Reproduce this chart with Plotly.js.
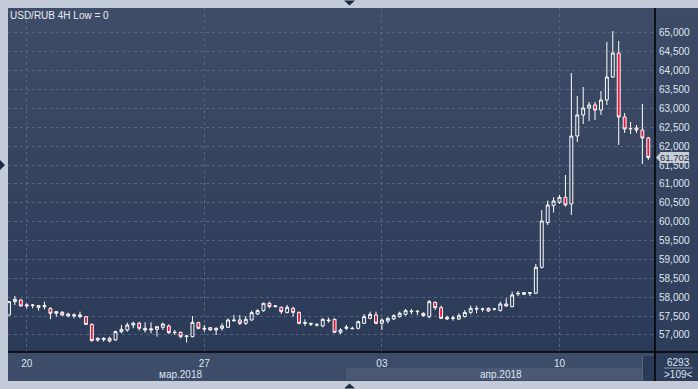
<!DOCTYPE html>
<html>
<head>
<meta charset="utf-8">
<script src="https://cdn.plot.ly/plotly-3.0.1.min.js"></script>
<style>
  html, body { margin:0; padding:0; background:#c3ccd8; }
  #wrap { position:relative; width:698px; height:389px; background:#c3ccd8; overflow:hidden; }
  .bg { position:absolute; }
  #plotbg { left:8px; top:8px; width:647px; height:344px; background:linear-gradient(#3f4c67, #2b3a57); }
  #rbg { left:655px; top:8px; width:43px; height:373px; background:linear-gradient(#3e4b66, #2d3c59); }
  #xbg { left:8px; top:352px; width:647px; height:29px; background:#3d4c68; }
  #mstrip { left:346px; top:368px; width:296px; height:12px; background:#4a5874; }
  #sbar { left:642px; top:356px; width:13px; height:25px; background:#2b3a56; border-left:1px solid #56647d; box-sizing:border-box; }
  #chart { position:absolute; left:0; top:0; width:698px; height:389px; }
</style>
</head>
<body>
<div id="wrap">
  <div class="bg" id="plotbg"></div>
  <div class="bg" id="rbg"></div>
  <div class="bg" id="xbg"></div>
  <div class="bg" id="mstrip"></div>
  <div class="bg" id="sbar"></div>
  <div id="chart"></div>
</div>
<script>
// ---- data (USD/RUB, 4H candles) ----
const barIndex = [];
for (let i = 0; i < 109; i++) barIndex.push(i);

const openPrices = [57530,57883,57927,57768,57780,57733,57750,57706,57574,57600,
  57556,57503,57486,57486,57282,56867,56876,56912,56867,57088,
  57132,57265,57309,57177,57132,57150,57203,57238,57062,57071,
  56955,56955,57327,57177,57194,57132,57177,57203,57397,57397,
  57309,57397,57556,57645,57839,57750,57733,57592,57706,57600,
  57309,57309,57282,57238,57397,57415,57071,57177,57177,57177,
  57309,57441,57530,57309,57371,57424,57485,57547,57636,57618,
  57574,57485,57865,57724,57468,57441,57424,57485,57600,57706,
  57689,57706,57680,57650,57821,57750,58086,58077,58104,58104,
  58792,59976,60426,60514,60647,60470,62271,62828,63013,63093,
  62960,63225,63834,64470,62775,62457,62483,62430,62219];
const highPrices = [57890,58033,57945,57838,57820,57795,57883,57733,57636,57636,
  57592,57574,57618,57503,57309,56938,56938,56956,57115,57265,
  57327,57353,57353,57335,57335,57238,57327,57282,57132,57088,
  56999,57503,57353,57265,57203,57203,57309,57441,57530,57530,
  57503,57645,57680,57857,57883,57795,57750,57795,57750,57618,
  57415,57320,57309,57441,57459,57441,57177,57265,57220,57380,
  57556,57618,57618,57441,57468,57547,57618,57689,57689,57662,
  57600,57927,57883,57777,57512,57512,57574,57662,57777,57777,
  57724,57724,57706,57883,57971,58148,58166,58130,58130,58881,
  60311,60559,60647,60709,61238,63940,63331,63570,63172,63172,
  63464,64762,65053,64788,62881,62642,62563,63119,62245];
const lowPrices = [57520,57795,57750,57706,57706,57645,57680,57415,57485,57503,
  57468,57441,57441,57265,56823,56823,56823,56797,56850,57044,
  57088,57177,57115,57062,57044,56955,57132,57026,56999,56912,
  56797,56938,57150,57088,57115,56999,57115,57203,57353,57265,
  57265,57380,57530,57618,57706,57733,57556,57574,57485,57282,
  57238,57238,57220,57203,57327,57062,57018,57132,57150,57150,
  57291,57415,57282,57132,57309,57397,57459,57512,57547,57530,
  57485,57441,57662,57424,57397,57380,57397,57468,57547,57574,
  57618,57618,57650,57620,57750,57733,58033,58068,58033,58086,
  58760,59914,60241,60470,60400,60179,62113,62589,62669,62695,
  62828,63093,63808,62033,62351,62325,62351,61530,61636];
const closePrices = [57883,57945,57768,57795,57790,57777,57777,57574,57618,57530,
  57503,57530,57530,57282,56850,56912,56912,56841,57088,57150,
  57265,57309,57177,57132,57160,57220,57291,57062,57071,56955,
  56973,57335,57177,57160,57132,57177,57238,57397,57380,57309,
  57415,57592,57645,57839,57750,57768,57618,57733,57600,57309,
  57327,57291,57265,57415,57380,57071,57132,57203,57168,57353,
  57485,57547,57309,57397,57441,57512,57574,57645,57618,57627,
  57512,57883,57724,57441,57424,57450,57512,57600,57706,57689,
  57680,57636,57689,57821,57768,58060,58104,58121,58121,58792,
  60020,60444,60550,60647,60444,62271,62828,63013,63093,62960,
  63225,63834,64470,62775,62457,62470,62430,62219,61702];

// axis ticks
const xTickIndex = [3, 33, 63, 93];
const xTickLabels = ['20', '27', '03', '10'];
const monthLabels = ['мар.2018', 'апр.2018'];
const yTickValues = [57000,57500,58000,58500,59000,59500,60000,60500,61000,61500,62000,62500,63000,63500,64000,64500,65000];
const lastPrice = 61702;
const lastPriceLabel = '61,702';
const barCountLabel = '6293';
const visibleBarsLabel = '>109<';
const chartTitle = 'USD/RUB 4H Low = 0';

// ---- drawing ----
const FONT = 'Liberation Sans, Arial, sans-serif';
const TXT = '#dfe6f1';

const trace = {
  type: 'candlestick',
  x: barIndex,
  open: openPrices, high: highPrices, low: lowPrices, close: closePrices,
  increasing: { line: { color: '#ffffff', width: 1 }, fillcolor: 'rgba(0,0,0,0)' },
  decreasing: { line: { color: '#ffffff', width: 1 }, fillcolor: '#e8163c' },
  whiskerwidth: 0,
  hoverinfo: 'skip',
  showlegend: false
};

const px = v => (v - 8) / 647;      // pixel x -> paper x
const py = v => (352 - v) / 344;    // pixel y -> paper y

const shapes = [
  // separators
  { type: 'line', xref: 'paper', yref: 'paper', x0: 1, x1: 1, y0: 1, y1: py(381), line: { color: '#000000', width: 1.5 } },
  { type: 'line', xref: 'paper', yref: 'paper', x0: 0, x1: px(698), y0: 0, y1: 0, line: { color: '#000000', width: 1.5 } },
  // line between bar counters
  { type: 'line', xref: 'paper', yref: 'paper', x0: px(664), x1: px(693), y0: py(368), y1: py(368), line: { color: '#8c98ad', width: 1 } },
  // price tag arrow
  { type: 'path', xref: 'paper', yref: 'paper',
    path: `M ${px(656)},${py(157.5)} L ${px(660)},${py(153)} L ${px(660)},${py(162)} Z`,
    fillcolor: '#c9ced6', line: { width: 0 } },
  // frame triangles
  { type: 'path', xref: 'paper', yref: 'paper',
    path: `M ${px(344)},${py(0.5)} L ${px(355)},${py(0.5)} L ${px(349.5)},${py(5.5)} Z`,
    fillcolor: '#1e2840', line: { width: 0 } },
  { type: 'path', xref: 'paper', yref: 'paper',
    path: `M ${px(344)},${py(388.5)} L ${px(355)},${py(388.5)} L ${px(349.5)},${py(383.5)} Z`,
    fillcolor: '#1e2840', line: { width: 0 } },
  { type: 'path', xref: 'paper', yref: 'paper',
    path: `M ${px(0)},${py(160)} L ${px(0)},${py(170)} L ${px(5)},${py(165)} Z`,
    fillcolor: '#1e2840', line: { width: 0 } }
];

const annotations = [
  { text: monthLabels[0], xref: 'paper', yref: 'paper', x: px(180), y: py(374), showarrow: false,
    xanchor: 'center', yanchor: 'middle', font: { family: FONT, size: 10, color: TXT } },
  { text: monthLabels[1], xref: 'paper', yref: 'paper', x: px(501), y: py(374), showarrow: false,
    xanchor: 'center', yanchor: 'middle', font: { family: FONT, size: 10, color: TXT } },
  { text: barCountLabel, xref: 'paper', yref: 'paper', x: px(678), y: py(362), showarrow: false,
    xanchor: 'center', yanchor: 'middle', font: { family: FONT, size: 10, color: TXT } },
  { text: visibleBarsLabel, xref: 'paper', yref: 'paper', x: px(678), y: py(374.5), showarrow: false,
    xanchor: 'center', yanchor: 'middle', font: { family: FONT, size: 10, color: TXT } },
  { text: lastPriceLabel, xref: 'paper', yref: 'y', x: px(660), y: lastPrice, showarrow: false,
    xanchor: 'left', yanchor: 'middle', bgcolor: '#c9ced6', borderpad: 0, borderwidth: 0,
    font: { family: FONT, size: 9.5, color: '#23304a' } }
];

const layout = {
  width: 698, height: 389,
  margin: { l: 8, r: 43, t: 8, b: 37, pad: 0 },
  paper_bgcolor: 'rgba(0,0,0,0)',
  plot_bgcolor: 'rgba(0,0,0,0)',
  title: { text: chartTitle, x: 10 / 698, xanchor: 'left', xref: 'container',
           y: 1 - 15 / 389, yanchor: 'middle', yref: 'container',
           font: { family: FONT, size: 10, color: '#e8edf5' } },
  xaxis: {
    type: 'linear', range: [-0.16, 109.13], fixedrange: true,
    tickmode: 'array', tickvals: xTickIndex, ticktext: xTickLabels,
    showgrid: true, gridcolor: '#56657f', griddash: '3px,3px', gridwidth: 1,
    zeroline: false, showline: false, ticks: '', ticklabelstandoff: 4,
    tickfont: { family: FONT, size: 10, color: TXT },
    rangeslider: { visible: false }
  },
  yaxis: {
    side: 'right', range: [56549, 65662], fixedrange: true,
    tickmode: 'array', tickvals: yTickValues, tickformat: ',d',
    showgrid: true, gridcolor: '#56657f', griddash: '3px,3px', gridwidth: 1,
    zeroline: false, showline: false, ticks: '', ticklabelstandoff: 3,
    tickfont: { family: FONT, size: 10, color: TXT }
  },
  shapes: shapes,
  annotations: annotations,
  showlegend: false,
  hovermode: false
};

Plotly.newPlot('chart', [trace], layout, { staticPlot: true, displayModeBar: false });
</script>
</body>
</html>
